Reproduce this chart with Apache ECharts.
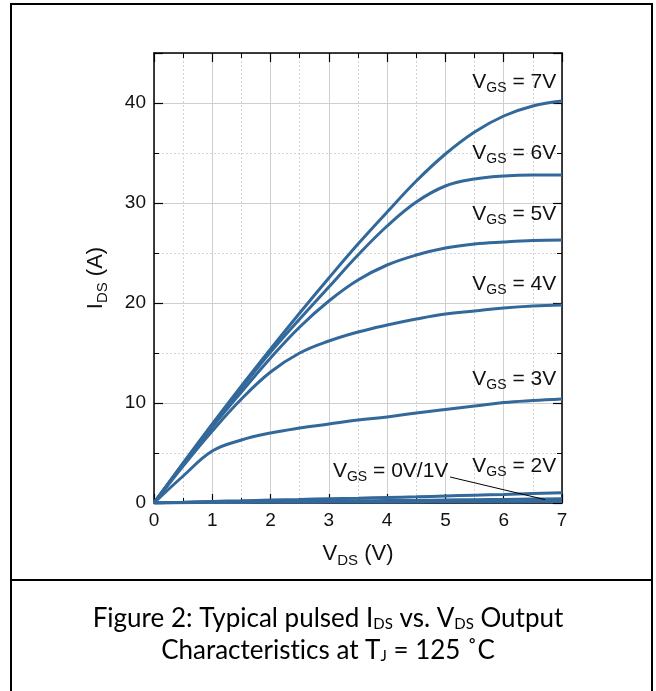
<!DOCTYPE html>
<html>
<head>
<meta charset="utf-8">
<script src="https://cdn.jsdelivr.net/npm/echarts@6/dist/echarts.min.js"></script>
<style>
  html, body { margin: 0; padding: 0; background: #fff; }
  #chart { width: 656px; height: 691px; }
</style>
</head>
<body>
<div id="chart"></div>
<script>
// Drain voltage samples (V)
const vds = [0, 0.5, 1, 1.5, 2, 2.5, 3, 3.5, 4, 4.5, 5, 5.5, 6, 6.5, 7];

// Drain current (A) for each gate voltage
const ids7V = [0, 4.0, 7.9, 11.7, 15.4, 19.0, 22.5, 25.9, 29.1, 32.2, 34.9, 37.1, 38.7, 39.7, 40.2];
const ids6V = [0, 3.9, 7.8, 11.5, 15.1, 18.4, 21.6, 24.8, 27.7, 30.1, 31.7, 32.4, 32.7, 32.8, 32.8];
const ids5V = [0, 3.9, 7.6, 11.1, 14.5, 17.6, 20.2, 22.3, 23.8, 24.8, 25.5, 25.9, 26.1, 26.25, 26.3];
const ids4V = [0, 3.7, 7.2, 10.4, 13.1, 15.0, 16.2, 17.1, 17.8, 18.4, 18.9, 19.2, 19.5, 19.7, 19.8];
const ids3V = [0, 2.7, 5.2, 6.3, 7.0, 7.5, 7.9, 8.3, 8.6, 9.0, 9.35, 9.7, 10.05, 10.25, 10.4];
const ids2V = [0, 0.08, 0.16, 0.22, 0.3, 0.36, 0.42, 0.48, 0.55, 0.62, 0.7, 0.78, 0.86, 0.95, 1.03];
const ids1V = [0, 0.05, 0.1, 0.12, 0.15, 0.17, 0.2, 0.22, 0.25, 0.27, 0.3, 0.33, 0.36, 0.39, 0.42];
const ids0V = [0, 0.03, 0.05, 0.06, 0.07, 0.08, 0.09, 0.1, 0.1, 0.11, 0.12, 0.12, 0.13, 0.14, 0.14];

const seriesNames = ['7V', '6V', '5V', '4V', '3V', '2V', '1V', '0V'];
const seriesData = [ids7V, ids6V, ids5V, ids4V, ids3V, ids2V, ids1V, ids0V];

// Curve labels: text and anchor (data units, right edge / vertical centre)
const labelText = ['7V', '6V', '5V', '4V', '3V', '2V', '0V/1V'];
const labelAnchorX = [6.9, 6.9, 6.9, 6.9, 6.9, 6.9, 5.05];
const labelAnchorY = [41.8, 34.7, 28.6, 21.6, 12.1, 3.4, 2.9];
// Leader line from the 0V/1V label to its curves
const leaderFrom = [5.08, 2.6];
const leaderTo = [6.71, 0.34];

// Axis ticks
const xTicks = [0, 1, 2, 3, 4, 5, 6, 7];
const yTicks = [0, 10, 20, 30, 40];

const LINE = '#33689b';
const INK = '#111';
const SANS = '"Liberation Sans", Arial, sans-serif';
const CAPTION = 'Lato, "Open Sans", sans-serif';

const curveRich = {
  m: { fontFamily: SANS, fontSize: 21, color: INK, lineHeight: 21, padding: [0, 0, 6, 0] },
  s: { fontFamily: SANS, fontSize: 14, color: INK, lineHeight: 14, verticalAlign: 'bottom' }
};
const nameRich = {
  m: { fontFamily: SANS, fontSize: 22, color: INK, lineHeight: 22, padding: [0, 0, 6, 0] },
  s: { fontFamily: SANS, fontSize: 15, color: INK, lineHeight: 15, verticalAlign: 'bottom' }
};
const captionRich = {
  c: { fontFamily: CAPTION, fontSize: 26, color: INK, lineHeight: 32 },
  d: { fontFamily: CAPTION, fontSize: 15, color: INK, lineHeight: 32, padding: [12, 0, 0, 0] }
};

function pairs(ys) { return vds.map((x, i) => [x, ys[i]]); }

const series = seriesData.map((ys, i) => ({
  name: seriesNames[i],
  type: 'line',
  data: pairs(ys),
  smooth: 0.4,
  showSymbol: false,
  symbol: 'none',
  lineStyle: { color: LINE, width: 3 },
  z: 3,
  animation: false
}));

// Curve labels as a symbol-less scatter placed in data space
series.push({
  type: 'scatter',
  symbolSize: 0,
  silent: true,
  animation: false,
  itemStyle: { opacity: 1 },
  data: labelText.map((t, i) => ({
    value: [labelAnchorX[i], labelAnchorY[i]],
    label: {
      show: true,
      position: 'left',
      distance: 0,
      color: INK,
      opacity: 1,
      formatter: '{m|V}{s|GS}{m| = ' + t + '}',
      rich: curveRich
    }
  })),
  z: 5
});

// Leader line
series.push({
  type: 'line',
  data: [leaderFrom, leaderTo],
  showSymbol: false,
  symbol: 'none',
  lineStyle: { color: '#000', width: 1 },
  silent: true,
  animation: false,
  z: 4
});

const axisCommon = {
  axisLine: { show: true, onZero: false, lineStyle: { color: '#000', width: 1.5 } },
  axisTick: { show: true, inside: true, length: 9, lineStyle: { color: '#000', width: 1.2 } },
  minorTick: { show: true, splitNumber: 2, length: 5, lineStyle: { color: '#000', width: 1 } }
};

const option = {
  animation: false,
  grid: [{ left: 154, right: 94, top: 53, bottom: 188, containLabel: false }],
  xAxis: [
    Object.assign({}, axisCommon, {
      type: 'value', min: 0, max: 7, interval: 1, position: 'bottom',
      axisLabel: {
        color: INK, fontFamily: SANS, fontSize: 19, margin: 8,
        formatter: v => xTicks.indexOf(v) >= 0 ? String(v) : ''
      },
      splitLine: { show: true, lineStyle: { color: '#cfcfcf', width: 1 } },
      minorSplitLine: { show: true, lineStyle: { color: '#d4d4d4', width: 1, type: [2, 2] } },
      name: '{m|V}{s|DS}{m| (V)}',
      nameLocation: 'middle',
      nameGap: 43,
      nameTextStyle: { rich: nameRich }
    }),
    Object.assign({}, axisCommon, {
      type: 'value', min: 0, max: 7, interval: 1, position: 'top',
      axisLabel: { show: false }, splitLine: { show: false }
    })
  ],
  yAxis: [
    Object.assign({}, axisCommon, {
      type: 'value', min: 0, max: 45, interval: 10, position: 'left',
      axisLabel: {
        color: INK, fontFamily: SANS, fontSize: 19, margin: 8,
        formatter: v => yTicks.indexOf(v) >= 0 ? String(v) : ''
      },
      splitLine: { show: true, lineStyle: { color: '#cfcfcf', width: 1 } },
      minorSplitLine: { show: true, lineStyle: { color: '#d4d4d4', width: 1, type: [2, 2] } },
      name: '{m|I}{s|DS}{m| (A)}',
      nameLocation: 'middle',
      nameGap: 44,
      nameRotate: 90,
      nameTextStyle: { rich: nameRich }
    }),
    Object.assign({}, axisCommon, {
      type: 'value', min: 0, max: 45, interval: 10, position: 'right',
      axisLabel: { show: false }, splitLine: { show: false }
    })
  ],
  series: series,
  graphic: [
    // Figure frame and caption divider
    { type: 'rect', shape: { x: 11, y: 4, width: 641, height: 700 },
      style: { fill: 'none', stroke: '#000', lineWidth: 2 }, z: 10 },
    { type: 'line', shape: { x1: 11, y1: 580, x2: 652, y2: 580 },
      style: { stroke: '#000', lineWidth: 2 }, z: 10 },
    // Caption, one centred line each (word split so "ti" is drawn as two glyphs)
    { type: 'text', left: 'center', top: 605, z: 10,
      style: {
        text: '{c|Figure 2: Typical pulsed I}{d|DS}{c| vs. V}{d|DS}{c| Output}',
        rich: captionRich
      }
    },
    { type: 'text', left: 'center', top: 637, z: 10,
      style: {
        text: '{c|Characterist}{c|ics at T}{d|J}{c| = 125 ˚C}',
        rich: captionRich
      }
    }
  ]
};

const chart = echarts.init(document.getElementById('chart'), null, { renderer: 'canvas' });
chart.setOption(option);
</script>
</body>
</html>
